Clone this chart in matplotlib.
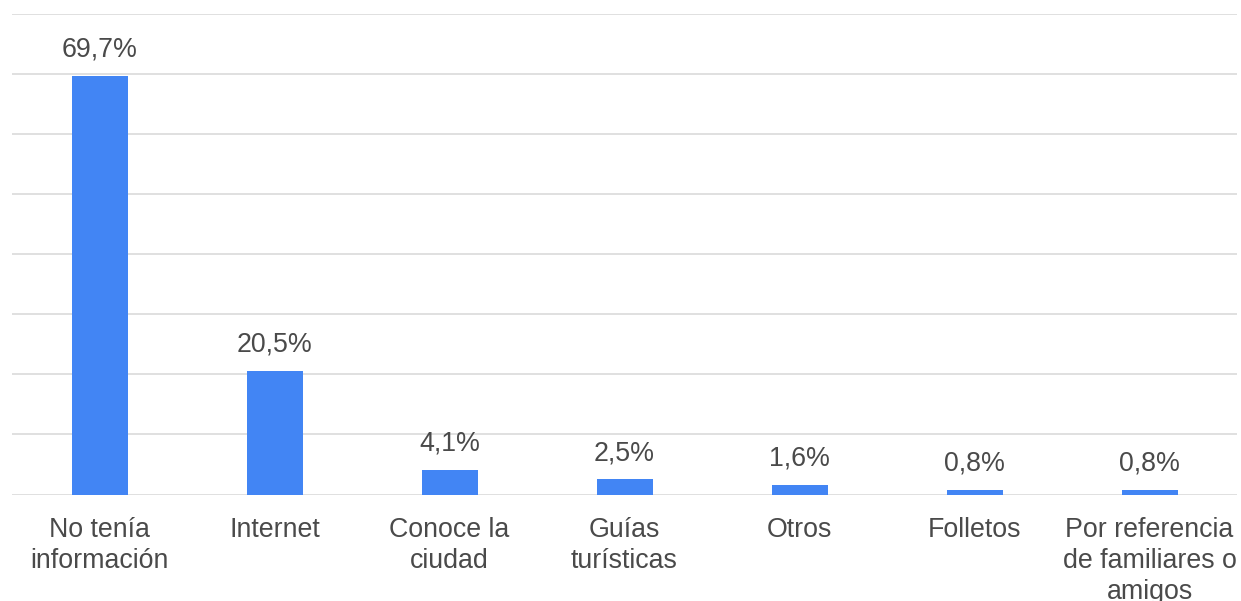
import matplotlib
matplotlib.use("Agg")
import matplotlib.pyplot as plt
import numpy as np

categories = ["No tenía\ninformación", "Internet", "Conoce la\nciudad", "Guías\nturísticas",
              "Otros", "Folletos", "Por referencia\nde familiares o\namigos"]
values = [69.7, 20.5, 4.1, 2.5, 1.6, 0.8, 0.8]
labels = ["69,7%", "20,5%", "4,1%", "2,5%", "1,6%", "0,8%", "0,8%"]
grid_ticks = [0, 10, 20, 30, 40, 50, 60, 70, 80]

plt.rcParams["font.family"] = ["Liberation Sans", "DejaVu Sans"]
txt = "#4a4a4a"

fig = plt.figure(figsize=(12.41, 6.01), dpi=100)
ax = fig.add_axes([12 / 1241, 106.5 / 601, 1225 / 1241, (494.5 - 14) / 601])

x = np.arange(len(categories))
ax.bar(x, values, width=0.32, color="#4285F4", zorder=3)
for xi, v, lab in zip(x, values, labels):
    ax.annotate(lab, (xi, v), xytext=(0, 14), textcoords="offset points",
                ha="center", va="baseline", fontsize=19.3, color=txt)

ax.set_xlim(-0.5, len(categories) - 0.5)
ax.set_ylim(0, 80)
ax.set_yticks(grid_ticks)
ax.yaxis.grid(True, color="#dddddd", lw=1.3, zorder=0)
ax.tick_params(axis="y", length=0, labelleft=False)
ax.set_xticks(x)
ax.set_xticklabels(categories, fontsize=19.3, color=txt, linespacing=1.25)
ax.tick_params(axis="x", length=0, pad=16)
for s in ax.spines.values():
    s.set_visible(False)

fig.savefig("out.png", dpi=100)
